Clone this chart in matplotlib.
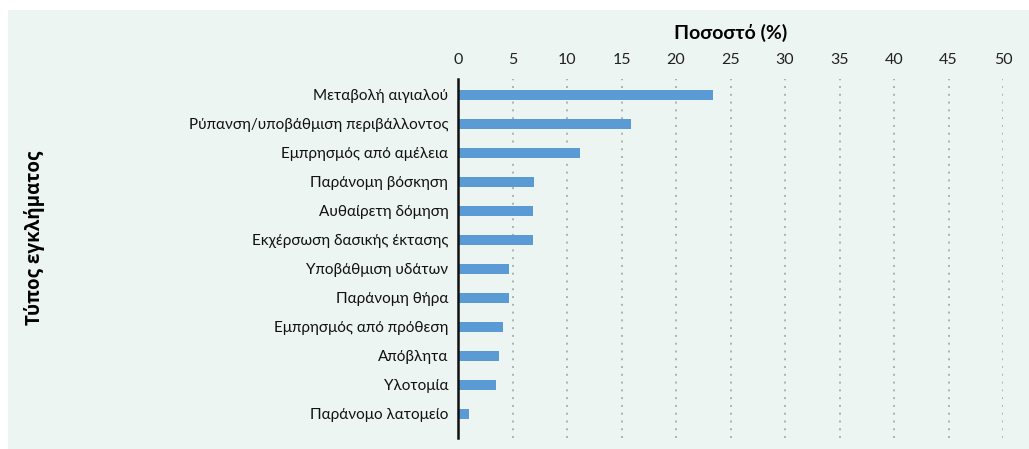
"""Ποσοστό περιβαλλοντικών εγκλημάτων ανά τύπο."""

import matplotlib.pyplot as plt
from matplotlib.patches import Rectangle

CATEGORIES = [
    "Μεταβολή αιγιαλού",
    "Ρύπανση/υποβάθμιση περιβάλλοντος",
    "Εμπρησμός από αμέλεια",
    "Παράνομη βόσκηση",
    "Αυθαίρετη δόμηση",
    "Εκχέρσωση δασικής έκτασης",
    "Υποβάθμιση υδάτων",
    "Παράνομη θήρα",
    "Εμπρησμός από πρόθεση",
    "Απόβλητα",
    "Υλοτομία",
    "Παράνομο λατομείο",
]
PERCENT = [23.4, 15.9, 11.2, 7.0, 6.9, 6.9, 4.7, 4.7, 4.1, 3.8, 3.5, 1.0]
X_TICKS = list(range(0, 55, 5))

PANEL = "#edf5f3"
BAR = "#5b9bd5"

plt.rcParams["font.family"] = ["Lato", "DejaVu Sans"]

fig = plt.figure(figsize=(10.29, 4.49), dpi=100, facecolor="white")
fig.patches.append(
    Rectangle((8 / 1029, 0), 1 - 8 / 1029, 1 - 10 / 449,
              transform=fig.transFigure, facecolor=PANEL, edgecolor="none", zorder=-5)
)

ax = fig.add_axes([458 / 1029, 1 - 438 / 449, (1003 - 458) / 1029, (438 - 79) / 449])
ax.set_zorder(2)
ax.set_facecolor("none")

positions = list(range(len(CATEGORIES)))
ax.barh(positions, PERCENT, height=0.35, color=BAR, zorder=2)
ax.set_ylim(len(CATEGORIES) - 1 + 0.83, -0.55)
ax.set_xlim(0, 50)
ax.set_yticks(positions)
ax.set_yticklabels(CATEGORIES, fontsize=11, color="#111111")
ax.tick_params(axis="y", length=0, pad=7)

ax.xaxis.tick_top()
ax.set_xticks(X_TICKS)
ax.tick_params(axis="x", length=0, pad=9, labelsize=11.5, colors="#222222")
ax.xaxis.set_label_position("top")
ax.set_xlabel("Ποσοστό (%)", fontsize=14, fontweight="bold", labelpad=10)

for x in X_TICKS[1:]:
    ax.axvline(x, color="#b0b0b0", linestyle=(0, (1, 3)), linewidth=1.4, zorder=1)

for side in ("top", "right", "bottom"):
    ax.spines[side].set_visible(False)
ax.spines["left"].set_linewidth(1.8)
ax.spines["left"].set_color("#111111")

fig.text(35 / 1029, 1 - 238 / 449, "Τύπος εγκλήματος", rotation=90,
         ha="center", va="center", fontsize=13.5, fontweight="bold",
         family=["Open Sans", "DejaVu Sans"])

fig.savefig("out.png", dpi=100, facecolor="white")
